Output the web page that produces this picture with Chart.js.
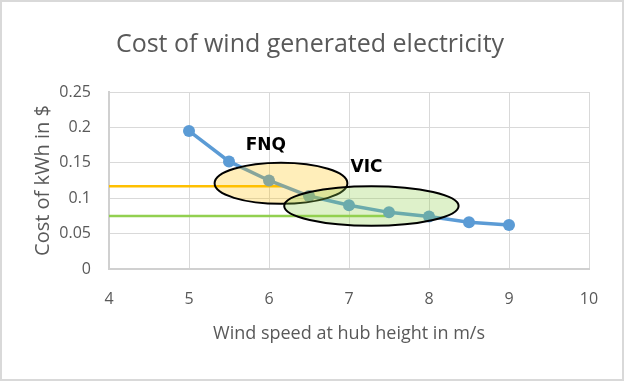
<!DOCTYPE html>
<html>
<head>
<meta charset="utf-8">
<script src="https://cdn.jsdelivr.net/npm/chart.js@4/dist/chart.umd.min.js"></script>
<style>
  html, body { margin: 0; padding: 0; background: #fff; }
  #wrap { width: 624px; height: 381px; }
</style>
</head>
<body>
<div id="wrap"><canvas id="windChart" width="624" height="381"></canvas></div>
<script>
// wind speed (m/s) vs cost ($/kWh)
const windSpeeds = [5, 5.5, 6, 6.5, 7, 7.5, 8, 8.5, 9];
const costPerKwh = [0.195, 0.152, 0.125, 0.103, 0.09, 0.08, 0.074, 0.066, 0.062];

// reference lines for the two regions
const fnqLineX = [4, 6.2];
const fnqLineY = [0.117, 0.117];
const vicLineX = [4, 7.5];
const vicLineY = [0.075, 0.075];

// region ellipses: centre x, centre y, half width, half height (data units)
const regionNames = ['FNQ', 'VIC'];
const regionEllipses = [
  [6.15, 0.121, 0.83, 0.029],
  [7.28, 0.089, 1.09, 0.028],
];
const regionLabelPos = [
  [5.96, 0.175],
  [7.22, 0.143],
];

const xTickValues = [4, 5, 6, 7, 8, 9, 10];
const yTickValues = [0, 0.05, 0.1, 0.15, 0.2, 0.25];

const grey = '#595959';
const fontFamily = "'Open Sans', 'Noto Sans', sans-serif";

const toPoints = (xs, ys) => xs.map((x, i) => ({ x: x, y: ys[i] }));

// light frame round the chart
const framePlugin = {
  id: 'frame',
  beforeDraw(chart) {
    const ctx = chart.ctx;
    ctx.save();
    ctx.fillStyle = '#fff';
    ctx.fillRect(0, 0, chart.width, chart.height);
    ctx.strokeStyle = '#d9d9d9';
    ctx.lineWidth = 2;
    ctx.strokeRect(1, 1, chart.width - 2, chart.height - 2);
    ctx.restore();
  }
};

// ellipses and their labels drawn over the series
const regionsPlugin = {
  id: 'regions',
  afterDatasetsDraw(chart) {
    const ctx = chart.ctx;
    const xs = chart.scales.x;
    const ys = chart.scales.y;
    const fills = ['rgba(255, 192, 0, 0.27)', 'rgba(146, 208, 80, 0.3)'];
    ctx.save();
    regionEllipses.forEach((e, i) => {
      const cx = xs.getPixelForValue(e[0]);
      const cy = ys.getPixelForValue(e[1]);
      const rx = Math.abs(xs.getPixelForValue(e[0] + e[2]) - cx);
      const ry = Math.abs(ys.getPixelForValue(e[1] + e[3]) - cy);
      ctx.beginPath();
      ctx.ellipse(cx, cy, rx, ry, 0, 0, Math.PI * 2);
      ctx.fillStyle = fills[i];
      ctx.fill();
      ctx.lineWidth = 2;
      ctx.strokeStyle = '#000';
      ctx.stroke();
    });
    ctx.fillStyle = '#000';
    ctx.font = "bold 17px 'DejaVu Sans', sans-serif";
    ctx.textAlign = 'center';
    ctx.textBaseline = 'middle';
    regionNames.forEach((name, i) => {
      const p = regionLabelPos[i];
      ctx.fillText(name, xs.getPixelForValue(p[0]), ys.getPixelForValue(p[1]));
    });
    ctx.restore();
  }
};

new Chart(document.getElementById('windChart'), {
  type: 'line',
  data: {
    datasets: [
      {
        label: 'FNQ',
        data: toPoints(fnqLineX, fnqLineY),
        borderColor: '#FFC000',
        borderWidth: 2.5,
        pointRadius: 0,
        order: 2
      },
      {
        label: 'VIC',
        data: toPoints(vicLineX, vicLineY),
        borderColor: '#92D050',
        borderWidth: 2.5,
        pointRadius: 0,
        order: 2
      },
      {
        label: 'Cost',
        data: toPoints(windSpeeds, costPerKwh),
        borderColor: '#5B9BD5',
        backgroundColor: '#5B9BD5',
        borderWidth: 3.5,
        pointRadius: 6,
        pointBorderWidth: 0,
        order: 1
      }
    ]
  },
  options: {
    responsive: false,
    animation: false,
    layout: { padding: { left: 31, right: 35, top: 0, bottom: 32 } },
    plugins: {
      legend: { display: false },
      tooltip: { enabled: false },
      title: {
        display: true,
        text: 'Cost of wind generated electricity',
        color: grey,
        font: { family: fontFamily, size: 25, weight: 'normal' },
        padding: { top: 30, bottom: 32 }
      }
    },
    scales: {
      x: {
        type: 'linear',
        min: 4,
        max: 10,
        afterBuildTicks: (s) => { s.ticks = xTickValues.map(v => ({ value: v })); },
        afterFit: (s) => { s.height = 80; },
        grid: { color: '#d9d9d9', drawTicks: false },
        border: { color: '#d0d0d0', width: 2 },
        ticks: { color: grey, padding: 21, font: { family: fontFamily, size: 16 } },
        title: {
          display: true,
          text: 'Wind speed at hub height in m/s',
          color: grey,
          font: { family: fontFamily, size: 18 },
          padding: { top: 8, bottom: 4 }
        }
      },
      y: {
        min: 0,
        max: 0.25,
        afterBuildTicks: (s) => { s.ticks = yTickValues.map(v => ({ value: v })); },
        afterFit: (s) => { s.width = 78; },
        grid: { color: '#d9d9d9', drawTicks: false },
        border: { color: '#d0d0d0', width: 2 },
        ticks: {
          color: grey,
          padding: 18,
          font: { family: fontFamily, size: 16 },
          callback: (v) => String(+Number(v).toFixed(2))
        },
        title: {
          display: true,
          text: 'Cost of kWh in $',
          color: grey,
          font: { family: fontFamily, size: 20 },
          padding: 0
        }
      }
    }
  },
  plugins: [framePlugin, regionsPlugin]
});
</script>
</body>
</html>
